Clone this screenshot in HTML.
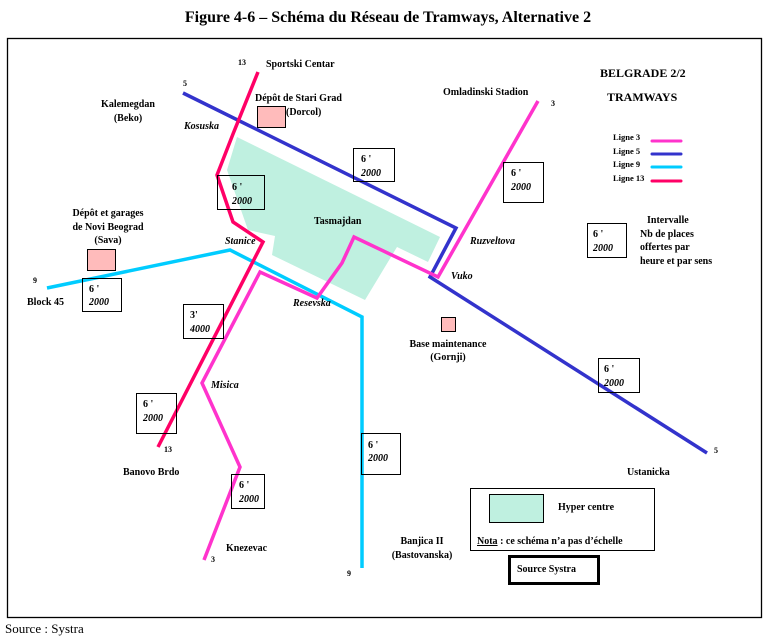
<!DOCTYPE html>
<html><head><meta charset="utf-8"><style>
body{margin:0;background:#fff;width:773px;height:641px;overflow:hidden}
svg{display:block;font-family:"Liberation Serif",serif}
.b{font-weight:bold;font-size:10px}
.i{font-style:italic;font-weight:bold;font-size:10px}
.s{font-weight:bold;font-size:8px}
</style></head><body>
<svg width="773" height="641" viewBox="0 0 773 641" xmlns="http://www.w3.org/2000/svg">
<text x="388" y="22" text-anchor="middle" font-weight="bold" font-size="16">Figure 4-6 – Schéma du Réseau de Tramways, Alternative 2</text>
<rect x="7.5" y="38.5" width="754" height="579" fill="none" stroke="#000" stroke-width="1.3"/>
<text x="5" y="633" font-size="13">Source : Systra</text>

<polygon points="237,137 440,237 428,262 397,247 365,300 272,255 275,236 248,230 227,170" fill="#bff0e0"/>

<g fill="none" stroke-width="3.5" stroke-linejoin="miter">
<polyline points="183,93 456,228 430,277 707,453" stroke="#3333cc"/>
<polyline points="47,288 230,250 362,317 362,568" stroke="#00ccff"/>
<polyline points="538,101 438,277 354,237 342,263 317,298 260,272 202,383 240,467 204,560" stroke="#ff33cc"/>
<polyline points="258,72 233,134 217,175 233,222 263,242 158,447" stroke="#ff0066"/>
</g>

<g fill="#ffbbbb" stroke="#000" stroke-width="1">
<rect x="257.5" y="106.5" width="28" height="21"/>
<rect x="87.5" y="249.5" width="28" height="21"/>
<rect x="441.5" y="317.5" width="14" height="14"/>
</g>

<g fill="#fff" stroke="#000" stroke-width="1" fill-opacity="0">
<rect x="217.5" y="175.5" width="47" height="34"/>
<rect x="353.5" y="148.5" width="41" height="33"/>
<rect x="503.5" y="162.5" width="40" height="40"/>
<rect x="587.5" y="223.5" width="39" height="34"/>
<rect x="82.5" y="278.5" width="39" height="33"/>
<rect x="183.5" y="304.5" width="40" height="34"/>
<rect x="136.5" y="393.5" width="40" height="40"/>
<rect x="231.5" y="474.5" width="33" height="34"/>
<rect x="361.5" y="433.5" width="39" height="41"/>
<rect x="598.5" y="358.5" width="41" height="34"/>
</g>
<g class="b">
<text x="232" y="190" class="b">6 '</text><text x="232" y="204" class="i">2000</text>
<text x="361" y="162" class="b">6 '</text><text x="361" y="176" class="i">2000</text>
<text x="511" y="176" class="b">6 '</text><text x="511" y="190" class="i">2000</text>
<text x="593" y="237" class="b">6 '</text><text x="593" y="251" class="i">2000</text>
<text x="89" y="292" class="b">6 '</text><text x="89" y="305" class="i">2000</text>
<text x="190" y="318" class="b">3'</text><text x="190" y="332" class="i">4000</text>
<text x="143" y="407" class="b">6 '</text><text x="143" y="421" class="i">2000</text>
<text x="239" y="488" class="b">6 '</text><text x="239" y="502" class="i">2000</text>
<text x="368" y="448" class="b">6 '</text><text x="368" y="461" class="i">2000</text>
<text x="604" y="372" class="b">6 '</text><text x="604" y="386" class="i">2000</text>
</g>

<!-- legend lines -->
<g stroke-width="3" stroke-linecap="round">
<line x1="652" y1="141" x2="681" y2="141" stroke="#ff33cc"/>
<line x1="652" y1="154" x2="681" y2="154" stroke="#3333cc"/>
<line x1="652" y1="167" x2="681" y2="167" stroke="#00ccff"/>
<line x1="652" y1="181" x2="681" y2="181" stroke="#ff0066"/>
</g>
<g font-size="8.5" font-weight="bold">
<text x="613" y="140">Ligne 3</text>
<text x="613" y="154">Ligne 5</text>
<text x="613" y="167">Ligne 9</text>
<text x="613" y="181">Ligne 13</text>
</g>

<text x="600" y="77" font-weight="bold" font-size="12">BELGRADE 2/2</text>
<text x="607" y="101" font-weight="bold" font-size="12">TRAMWAYS</text>

<g class="b">
<text x="238" y="65" class="s">13</text>
<text x="266" y="67">Sportski Centar</text>
<text x="183" y="86" class="s">5</text>
<text x="128" y="107" text-anchor="middle">Kalemegdan</text>
<text x="128" y="121" text-anchor="middle">(Beko)</text>
<text x="255" y="101">Dépôt  de Stari Grad</text>
<text x="286" y="115">(Dorcol)</text>
<text x="184" y="129" class="i">Kosuska</text>
<text x="443" y="95">Omladinski Stadion</text>
<text x="551" y="106" class="s">3</text>
<text x="314" y="224">Tasmajdan</text>
<text x="225" y="244" class="i">Stanice</text>
<text x="470" y="244" class="i">Ruzveltova</text>
<text x="451" y="279" class="i">Vuko</text>
<text x="108" y="216" text-anchor="middle">Dépôt et garages</text>
<text x="108" y="230" text-anchor="middle">de Novi Beograd</text>
<text x="108" y="243" text-anchor="middle">(Sava)</text>
<text x="33" y="283" class="s">9</text>
<text x="27" y="305">Block 45</text>
<text x="293" y="306" class="i">Resevska</text>
<text x="448" y="347" text-anchor="middle">Base maintenance</text>
<text x="448" y="360" text-anchor="middle">(Gornji)</text>
<text x="647" y="223">Intervalle</text>
<text x="640" y="237">Nb de places</text>
<text x="640" y="250">offertes par</text>
<text x="640" y="264">heure et par sens</text>
<text x="211" y="388" class="i">Misica</text>
<text x="164" y="452" class="s">13</text>
<text x="123" y="475">Banovo Brdo</text>
<text x="714" y="453" class="s">5</text>
<text x="627" y="475">Ustanicka</text>
<text x="226" y="551">Knezevac</text>
<text x="211" y="562" class="s">3</text>
<text x="422" y="544" text-anchor="middle">Banjica II</text>
<text x="422" y="558" text-anchor="middle">(Bastovanska)</text>
<text x="347" y="576" class="s">9</text>
</g>

<rect x="470.5" y="488.5" width="184" height="62" fill="none" stroke="#000" stroke-width="1"/>
<rect x="489.5" y="494.5" width="54" height="28" fill="#bff0e0" stroke="#000" stroke-width="1"/>
<text x="558" y="510" class="b">Hyper centre</text>
<text x="477" y="544" class="b"><tspan text-decoration="underline">Nota</tspan> : ce schéma n’a pas d’échelle</text>
<rect x="509.5" y="556.5" width="89" height="27" fill="none" stroke="#000" stroke-width="3"/>
<text x="517" y="572" class="b">Source Systra</text>
</svg>
</body></html>
